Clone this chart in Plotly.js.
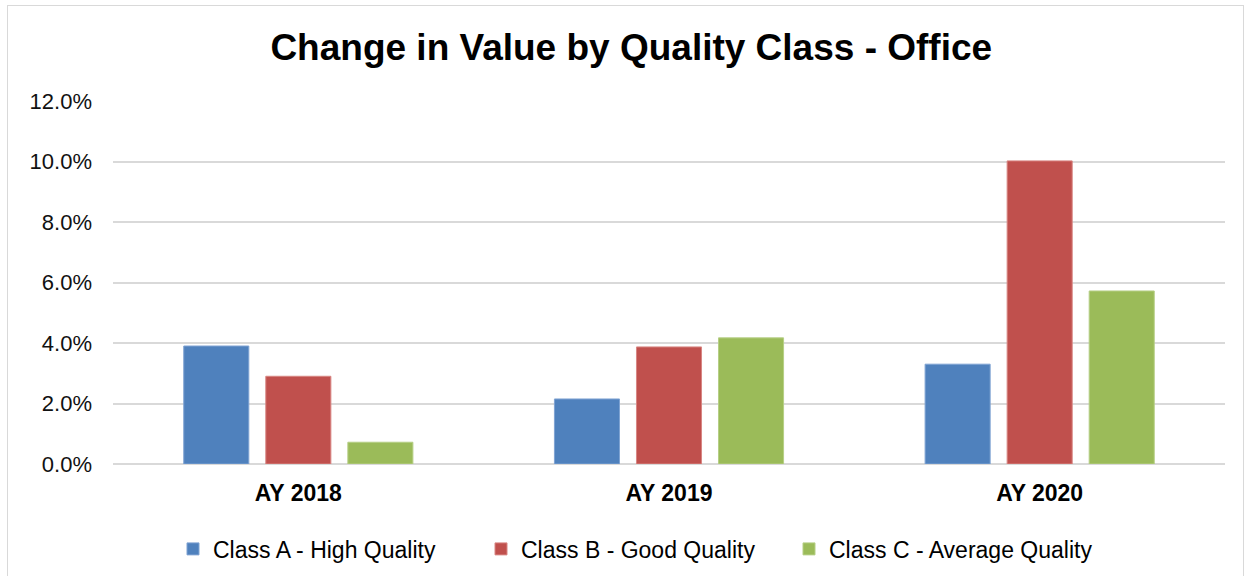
<!DOCTYPE html>
<html><head><meta charset="utf-8">
<script src="https://cdn.plot.ly/plotly-3.0.1.min.js"></script>
<style>
html,body{margin:0;padding:0;background:#fff;}
#wrap{position:relative;width:1250px;height:576px;overflow:hidden;}
#frame{position:absolute;left:7px;top:5px;width:1237px;height:600px;border:1px solid #D9D9D9;box-sizing:border-box;pointer-events:none;}
#chart{width:1250px;height:576px;}
</style></head>
<body>
<div id="wrap"><div id="chart"></div><div id="frame"></div></div>
<script>
const categories = ["AY 2018", "AY 2019", "AY 2020"];
const seriesNames = ["Class A - High Quality", "Class B - Good Quality", "Class C - Average Quality"];
const classA = [3.90, 2.15, 3.30];
const classB = [2.90, 3.87, 10.02];
const classC = [0.72, 4.17, 5.72];
const yTickVals = [0, 2, 4, 6, 8, 10, 12];
const yTickText = ["0.0%", "2.0%", "4.0%", "6.0%", "8.0%", "10.0%", "12.0%"];

const colors = ["#4F81BD", "#C0504D", "#9BBB59"];
const lineColors = ["#7FA3D3", "#D88683", "#B6CF86"];
const values = [classA, classB, classC];

const traces = values.map((v, i) => ({
  type: "bar",
  name: seriesNames[i],
  x: categories,
  y: v,
  marker: {color: colors[i], line: {color: lineColors[i], width: 1}},
  hoverinfo: "x+y+name"
}));

const layout = {
  width: 1250, height: 576,
  margin: {l: 113, r: 25, t: 101, b: 112},
  paper_bgcolor: "#fff", plot_bgcolor: "#fff",
  font: {family: "Liberation Sans, Arial, sans-serif", color: "#000"},
  title: {text: "<b>Change in Value by Quality Class - Office</b>", font: {size: 37, color: "#000"}, x: 0.505, xanchor: "center", y: 0.918, yanchor: "middle"},
  barmode: "group",
  bargap: 0.336,
  bargroupgap: 0.207,
  xaxis: {
    type: "category", automargin: false,
    tickfont: {size: 23, color: "#000", family: "Liberation Sans, Arial, sans-serif", weight: "bold"},
    showgrid: false, showline: false, zeroline: false,
    ticks: "", ticklabelstandoff: 13
  },
  yaxis: {
    range: [0, 12], automargin: false,
    tickvals: yTickVals, ticktext: yTickText,
    tickfont: {size: 22, color: "#111"},
    showgrid: true, gridcolor: "#D9D9D9", gridwidth: 1.5,
    zeroline: true, zerolinecolor: "#D9D9D9", zerolinewidth: 2,
    showline: false, ticks: "", ticklabelstandoff: 20, fixedrange: true
  },
  showlegend: true,
  legend: {orientation: "h", x: 0.508, xanchor: "center", xref: "container",
    y: 0.047, yanchor: "middle", yref: "container",
    font: {size: 23, color: "#000"}, itemwidth: 30, traceorder: "normal",
    entrywidth: 263, entrywidthmode: "pixels"}
};

Plotly.newPlot("chart", traces, layout, {displayModeBar: false});
</script>
</body></html>
